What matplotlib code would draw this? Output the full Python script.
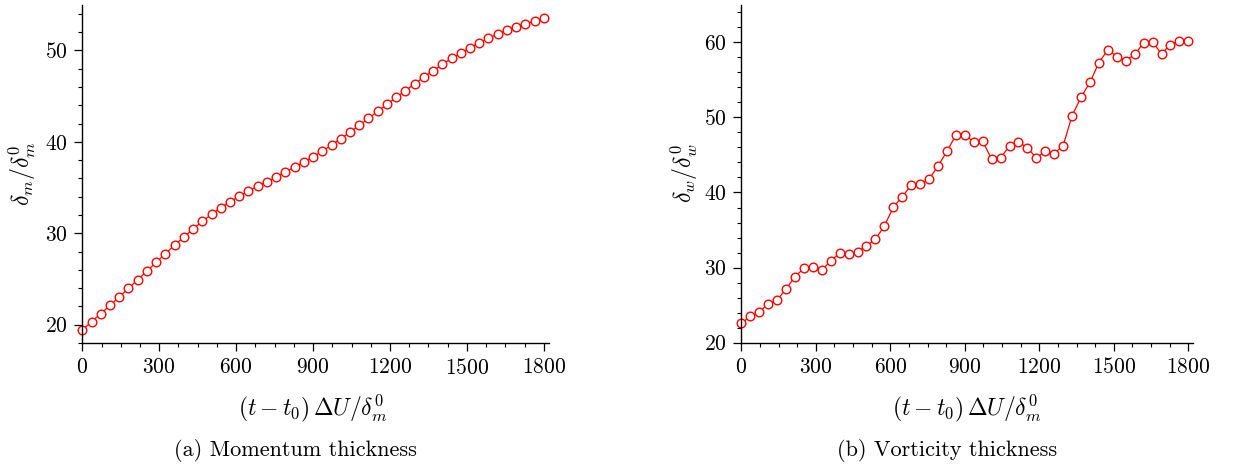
import numpy as np
import matplotlib
matplotlib.use("Agg")
import matplotlib.pyplot as plt
from matplotlib.ticker import MultipleLocator

# ---------------- data ----------------
time = list(range(0, 1801, 36))

momentum_thickness = [
    19.42, 20.33, 21.20, 22.11, 23.03, 23.97, 24.92, 25.87, 26.82, 27.77,
    28.71, 29.59, 30.46, 31.30, 32.07, 32.80, 33.45, 34.07, 34.62, 35.17,
    35.64, 36.15, 36.70, 37.24, 37.79, 38.37, 38.99, 39.65, 40.34, 41.07,
    41.80, 42.57, 43.33, 44.10, 44.86, 45.59, 46.36, 47.09, 47.78, 48.47,
    49.13, 49.71, 50.29, 50.81, 51.32, 51.79, 52.23, 52.59, 52.92, 53.21,
    53.50,
]

vorticity_thickness = [
    22.58, 23.51, 24.13, 25.15, 25.68, 27.15, 28.79, 29.90, 30.12, 29.68,
    30.88, 31.95, 31.86, 32.08, 32.92, 33.77, 35.54, 38.03, 39.45, 40.96,
    41.09, 41.80, 43.49, 45.49, 47.62, 47.71, 46.69, 46.82, 44.42, 44.60,
    46.20, 46.78, 45.93, 44.60, 45.49, 45.18, 46.24, 50.24, 52.68, 54.68,
    57.30, 58.99, 58.10, 57.57, 58.37, 59.92, 60.05, 58.45, 59.70, 60.14,
    60.14,
]

x_ticks = [0, 300, 600, 900, 1200, 1500, 1800]
left_yticks = [20, 30, 40, 50]
right_yticks = [20, 30, 40, 50, 60]

xlabel = r'$(t-t_0)\,\Delta U/\delta_m^0$'
ylabel_left = r'$\delta_m/\delta_m^0$'
ylabel_right = r'$\delta_w/\delta_w^0$'
caption_left = '(a) Momentum thickness'
caption_right = '(b) Vorticity thickness'

# ---------------- style ----------------
plt.rcParams['font.family'] = 'serif'
plt.rcParams['font.serif'] = ['cmr10', 'DejaVu Serif']
plt.rcParams['mathtext.fontset'] = 'cm'
plt.rcParams['axes.unicode_minus'] = False
plt.rcParams['axes.formatter.use_mathtext'] = True

W, H = 1239, 466
fig = plt.figure(figsize=(W / 100, H / 100), dpi=100)

def px_axes(l, r, t, b):
    return [l / W, 1 - b / H, (r - l) / W, (b - t) / H]

ax1 = fig.add_axes(px_axes(82.3, 549.0, 4.7, 343.0))
ax2 = fig.add_axes(px_axes(741.3, 1193.3, 4.7, 342.7))

TICK_FS = 15.5
LABEL_FS = 17
CAP_FS = 16
red = '#ff0000'

def style(ax, yticks, ylim, ylabel, ylab_x, xlab_x):
    for s in ['top', 'right']:
        ax.spines[s].set_visible(False)
    for s in ['left', 'bottom']:
        ax.spines[s].set_linewidth(1.0)
    ax.set_xlim(0, 1820)
    ax.set_ylim(*ylim)
    ax.set_xticks(x_ticks)
    ax.set_yticks(yticks)
    ax.xaxis.set_minor_locator(MultipleLocator(75))
    ax.yaxis.set_minor_locator(MultipleLocator(2))
    ax.tick_params(which='major', direction='out', length=5.5, width=0.9,
                   labelsize=TICK_FS, pad=5)
    ax.tick_params(which='minor', direction='out', length=3, width=0.8)
    ax.set_xlabel(xlabel, fontsize=LABEL_FS)
    ax.set_ylabel(ylabel, fontsize=LABEL_FS)
    ax.xaxis.set_label_coords(xlab_x, -0.148)
    ax.yaxis.set_label_coords(ylab_x, 0.5)

ax1.plot(time, momentum_thickness, color=red, lw=0.9, marker='o',
         ms=6.2, mfc='white', mec=red, mew=1.0, clip_on=False)
style(ax1, left_yticks, (18, 55), ylabel_left, -0.095, 0.494)

ax2.plot(time, vorticity_thickness, color=red, lw=0.9, marker='o',
         ms=6.2, mfc='white', mec=red, mew=1.0, clip_on=False)
style(ax2, right_yticks, (20, 65), ylabel_right, -0.091, 0.499)

for xc, cap in [(295.0, caption_left), (947.0, caption_right)]:
    fig.text(xc / W, 1 - 450 / H, cap, ha='center', va='center',
             fontsize=CAP_FS)

fig.savefig('out.png', dpi=100)
